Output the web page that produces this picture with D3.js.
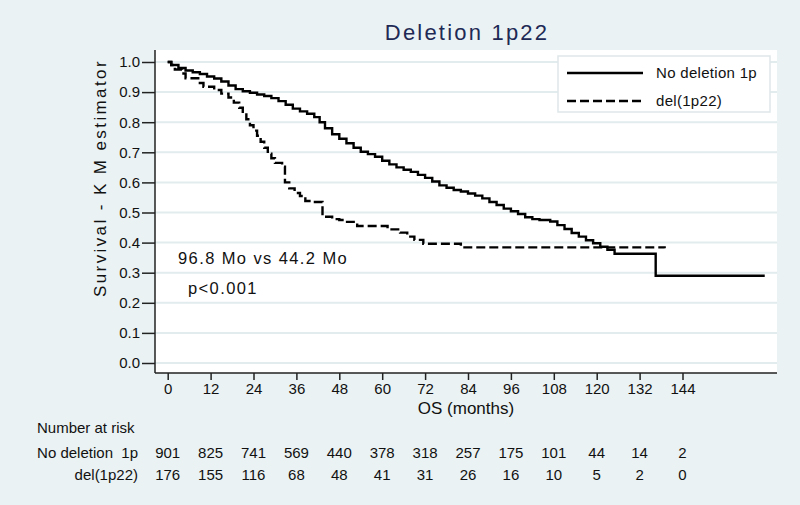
<!DOCTYPE html>
<html>
<head>
<meta charset="utf-8">
<script src="https://cdn.jsdelivr.net/npm/d3@7/dist/d3.min.js"></script>
<style>
  html, body { margin: 0; padding: 0; background: #eaf2f3; }
  svg { display: block; font-family: "Liberation Sans", Arial, sans-serif; }
</style>
</head>
<body>
<svg id="chart" width="800" height="505"></svg>
<script>
// ---- data ----
const seriesNames = ["No deletion 1p", "del(1p22)"];
const noDelTime = [0, 1, 3, 5, 7, 9, 11, 13, 15, 17, 19, 21, 23, 25, 27, 29, 31, 33, 35, 37, 39, 41, 42.5, 44, 46, 48, 50, 52, 54, 56, 58, 60, 62, 64, 66, 68, 70, 72, 74, 76, 78, 80, 82, 84, 86, 88, 90, 92, 94, 96, 98, 100, 102, 104, 107, 109, 111, 113, 115, 117, 119, 121, 123, 125, 136.5, 167];
const noDelSurv = [1.0, 0.99, 0.98, 0.972, 0.966, 0.96, 0.952, 0.945, 0.935, 0.922, 0.91, 0.903, 0.898, 0.892, 0.887, 0.88, 0.87, 0.858, 0.845, 0.836, 0.828, 0.817, 0.8, 0.78, 0.76, 0.745, 0.73, 0.715, 0.702, 0.694, 0.685, 0.672, 0.66, 0.65, 0.642, 0.635, 0.625, 0.615, 0.603, 0.59, 0.582, 0.575, 0.57, 0.563, 0.556, 0.547, 0.535, 0.525, 0.513, 0.504, 0.495, 0.484, 0.478, 0.475, 0.47, 0.458, 0.445, 0.432, 0.42, 0.408, 0.398, 0.386, 0.376, 0.363, 0.29, 0.29];
const delTime = [0, 1, 2, 4, 5, 9, 10, 13, 15, 17, 18.5, 20, 21, 22, 23, 24, 25, 26, 27, 28, 29, 30, 32, 32.8, 34, 35.5, 37, 38.5, 40, 43.3, 46, 48, 49.5, 53, 61.5, 65, 67, 69, 71.5, 82, 139];
const delSurv = [1.0, 0.99, 0.975, 0.962, 0.946, 0.93, 0.918, 0.907, 0.895, 0.882, 0.865, 0.848, 0.83, 0.81, 0.79, 0.772, 0.755, 0.735, 0.715, 0.695, 0.68, 0.665, 0.652, 0.6, 0.58, 0.565, 0.555, 0.538, 0.535, 0.486, 0.478, 0.475, 0.469, 0.455, 0.444, 0.433, 0.42, 0.409, 0.396, 0.384, 0.381];
const xTicks = [0, 12, 24, 36, 48, 60, 72, 84, 96, 108, 120, 132, 144];
const yTicks = [0, 0.1, 0.2, 0.3, 0.4, 0.5, 0.6, 0.7, 0.8, 0.9, 1.0];
const riskNoDel = [901, 825, 741, 569, 440, 378, 318, 257, 175, 101, 44, 14, 2];
const riskDel = [176, 155, 116, 68, 48, 41, 31, 26, 16, 10, 5, 2, 0];
const titleText = "Deletion 1p22";
const annot1 = "96.8 Mo vs 44.2 Mo";
const annot2 = "p<0.001";

// ---- layout ----
const svg = d3.select("#chart");
const plot = { left: 155, right: 777, top: 50, bottom: 373 };
const x = d3.scaleLinear().domain([0, 144]).range([167.7, 682.5]);
const y = d3.scaleLinear().domain([0, 1]).range([363, 62]);

svg.append("rect").attr("x", 0).attr("y", 0).attr("width", 800).attr("height", 505).attr("fill", "#eaf2f3");
svg.append("rect").attr("x", plot.left).attr("y", plot.top)
  .attr("width", plot.right - plot.left).attr("height", plot.bottom - plot.top).attr("fill", "#ffffff");

// gridlines
svg.append("g").selectAll("line").data(yTicks).join("line")
  .attr("x1", plot.left).attr("x2", plot.right)
  .attr("y1", d => y(d)).attr("y2", d => y(d))
  .attr("stroke", "#e2ebee").attr("stroke-width", 2);

// title
svg.append("text").attr("x", 467).attr("y", 40).attr("text-anchor", "middle")
  .attr("font-size", 22).attr("letter-spacing", 2.2).attr("fill", "#1e2a55").text(titleText);

// y axis
const yAxis = d3.axisLeft(y).tickValues(yTicks).tickFormat(d3.format(".1f")).tickSize(13).tickPadding(2);
const gy = svg.append("g").attr("transform", `translate(${plot.left},0)`).call(yAxis);
gy.select(".domain").remove();
gy.selectAll(".tick line").attr("stroke", "#222").attr("stroke-width", 1.5);
gy.selectAll(".tick text").attr("font-size", 15).attr("fill", "#111").attr("font-family", "Liberation Sans, Arial, sans-serif");
svg.append("line").attr("x1", plot.left).attr("x2", plot.left).attr("y1", plot.top).attr("y2", plot.bottom)
  .attr("stroke", "#222").attr("stroke-width", 1.5);

// x axis
const xAxis = d3.axisBottom(x).tickValues(xTicks).tickFormat(d3.format("d")).tickSize(7).tickPadding(3);
const gx = svg.append("g").attr("transform", `translate(0,${plot.bottom})`).call(xAxis);
gx.select(".domain").remove();
gx.selectAll(".tick line").attr("stroke", "#222").attr("stroke-width", 1.5);
gx.selectAll(".tick text").attr("font-size", 15).attr("fill", "#111").attr("font-family", "Liberation Sans, Arial, sans-serif");
svg.append("line").attr("x1", plot.left).attr("x2", plot.right).attr("y1", plot.bottom).attr("y2", plot.bottom)
  .attr("stroke", "#222").attr("stroke-width", 1.5);

// axis titles
svg.append("text").attr("x", 466).attr("y", 414).attr("text-anchor", "middle")
  .attr("font-size", 17).attr("fill", "#111").text("OS (months)");
svg.append("text").attr("transform", "translate(106,178) rotate(-90)").attr("text-anchor", "middle")
  .attr("font-size", 17).attr("letter-spacing", 2.4).attr("fill", "#111").text("Survival - K M estimator");

// curves
const line = d3.line().x(d => x(d[0])).y(d => y(d[1])).curve(d3.curveStepAfter);
const noDelData = noDelTime.map((t, i) => [t, noDelSurv[i]]);
const delData = delTime.map((t, i) => [t, delSurv[i]]);
svg.append("path").datum(delData).attr("d", line).attr("fill", "none")
  .attr("stroke", "#000").attr("stroke-width", 2.4).attr("stroke-dasharray", "9,4");
svg.append("path").datum(noDelData).attr("d", line).attr("fill", "none")
  .attr("stroke", "#000").attr("stroke-width", 2.4);

// annotations
svg.append("text").attr("x", 178).attr("y", 264).attr("font-size", 16.5).attr("letter-spacing", 1.4)
  .attr("fill", "#111").text(annot1);
svg.append("text").attr("x", 188).attr("y", 294).attr("font-size", 16.5).attr("letter-spacing", 1.4)
  .attr("fill", "#111").text(annot2);

// legend
const lg = svg.append("g");
lg.append("rect").attr("x", 558).attr("y", 56).attr("width", 212).attr("height", 56)
  .attr("fill", "#fff").attr("stroke", "#dfe7ea").attr("stroke-width", 1.5);
const legendY = [73, 101];
seriesNames.forEach((name, i) => {
  lg.append("line").attr("x1", 567).attr("x2", 643).attr("y1", legendY[i]).attr("y2", legendY[i])
    .attr("stroke", "#000").attr("stroke-width", 2.4).attr("stroke-dasharray", i === 1 ? "9,4" : null);
  lg.append("text").attr("x", 656).attr("y", legendY[i] + 5).attr("font-size", 15).attr("letter-spacing", 0.3)
    .attr("fill", "#111").text(name.replace("deletion 1p", "deletion  1p"));
});

// number at risk table
svg.append("text").attr("x", 37).attr("y", 433).attr("font-size", 15).attr("fill", "#111").text("Number at risk");
const rows = [[seriesNames[0], riskNoDel, 458], [seriesNames[1], riskDel, 480]];
rows.forEach(([name, vals, yy]) => {
  svg.append("text").attr("x", 138).attr("y", yy).attr("text-anchor", "end").attr("font-size", 15)
    .attr("fill", "#111").text(name.replace("deletion 1p", "deletion  1p")).attr("xml:space", "preserve");
  svg.append("g").selectAll("text").data(vals).join("text")
    .attr("x", (d, i) => x(xTicks[i])).attr("y", yy).attr("text-anchor", "middle")
    .attr("font-size", 15).attr("fill", "#111").text(d => d);
});
</script>
</body>
</html>
